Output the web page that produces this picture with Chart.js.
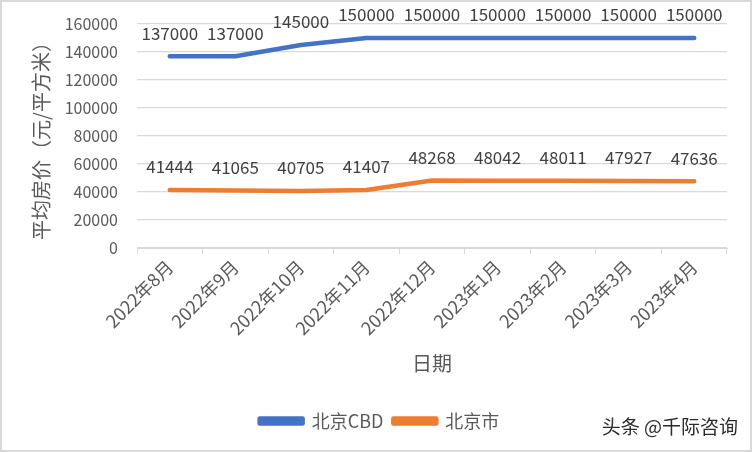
<!DOCTYPE html>
<html>
<head>
<meta charset="utf-8">
<script src="https://cdn.jsdelivr.net/npm/chart.js@4"></script>
<style>
  html, body { margin: 0; padding: 0; background: #fff; }
  #wrap {
    position: relative;
    width: 752px; height: 452px;
    box-sizing: border-box;
    border: 2px solid #d9d9d9;
    background: #fff;
  }
  #chart { display: block; }
  #mark {
    position: absolute; right: 12px; bottom: 11px;
    font-family: "Noto Sans CJK SC", sans-serif;
    font-size: 19px; color: #2b2b2b;
  }
</style>
</head>
<body>
<div id="wrap">
  <canvas id="chart" width="748" height="448"></canvas>
  <div id="mark">头条 @千际咨询</div>
</div>
<script>
const months = ['2022年8月', '2022年9月', '2022年10月', '2022年11月', '2022年12月',
  '2023年1月', '2023年2月', '2023年3月', '2023年4月'];
const cbdPrices = [137000, 137000, 145000, 150000, 150000, 150000, 150000, 150000, 150000];
const cityPrices = [41444, 41065, 40705, 41407, 48268, 48042, 48011, 47927, 47636];
const yTicks = [0, 20000, 40000, 60000, 80000, 100000, 120000, 140000, 160000];

const fontFamily = '"Noto Sans CJK SC", "Noto Sans", sans-serif';
const textColor = '#595959';

// draws the value above each point, like Excel data labels
const valueLabels = {
  id: 'valueLabels',
  afterDatasetsDraw(chart) {
    const ctx = chart.ctx;
    ctx.save();
    ctx.font = '17px ' + fontFamily;
    ctx.fillStyle = '#404040';
    ctx.textAlign = 'center';
    ctx.textBaseline = 'middle';
    chart.data.datasets.forEach((ds, i) => {
      const meta = chart.getDatasetMeta(i);
      meta.data.forEach((pt, j) => {
        ctx.fillText(String(ds.data[j]), pt.x, pt.y - 23);
      });
    });
    ctx.restore();
  }
};

const ctx = document.getElementById('chart').getContext('2d');
const chart = new Chart(ctx, {
  type: 'line',
  data: {
    labels: months,
    datasets: [
      {
        label: '北京CBD',
        data: cbdPrices,
        borderColor: '#4472C4',
        backgroundColor: '#4472C4',
        borderWidth: 4.5,
        pointRadius: 0,
        tension: 0,
        borderCapStyle: 'round',
        borderJoinStyle: 'round',
      },
      {
        label: '北京市',
        data: cityPrices,
        borderColor: '#ED7D31',
        backgroundColor: '#ED7D31',
        borderWidth: 4.5,
        pointRadius: 0,
        tension: 0,
        borderCapStyle: 'round',
        borderJoinStyle: 'round',
      },
    ],
  },
  options: {
    responsive: false,
    animation: false,
    // left padding also pushes the legend centre to the right, like the Excel one
    layout: { padding: { top: 22, right: 23, left: 30, bottom: 10 } },
    plugins: {
      tooltip: { enabled: false },
      legend: {
        position: 'bottom',
        labels: {
          boxWidth: 43,
          boxHeight: 5,
          padding: 10,
          color: textColor,
          font: { family: fontFamily, size: 18 },
        },
      },
    },
    scales: {
      x: {
        offset: true,
        grid: {
          offset: true,
          drawOnChartArea: false,
          drawTicks: true,
          tickLength: 6,
          color: '#d9d9d9',
        },
        border: { color: '#d9d9d9' },
        ticks: {
          minRotation: 45,
          maxRotation: 45,
          color: textColor,
          padding: 2,
          font: { family: fontFamily, size: 18 },
        },
        title: {
          display: true,
          text: '日期',
          color: textColor,
          font: { family: fontFamily, size: 20 },
          padding: { top: 0, bottom: 27 },
        },
        afterFit(scale) { scale.height = 154; },
      },
      y: {
        min: 0,
        max: 160000,
        afterBuildTicks(scale) { scale.ticks = yTicks.map(v => ({ value: v })); },
        ticks: {
          color: textColor,
          padding: 19,
          font: { family: fontFamily, size: 16 },
          callback: (v) => String(v),
        },
        grid: { color: '#d9d9d9', drawTicks: false, lineWidth: 1.3 },
        border: { display: false },
        title: {
          display: true,
          text: '平均房价（元/平方米）',
          color: textColor,
          font: { family: fontFamily, size: 20 },
          padding: { top: -2.6, bottom: 0 },
        },
        afterFit(scale) {
          scale.width = 105;
          // tick padding would otherwise push the plot top down
          scale.paddingTop = 0;
          scale.paddingBottom = 0;
        },
      },
    },
  },
  plugins: [valueLabels],
});
</script>
</body>
</html>
